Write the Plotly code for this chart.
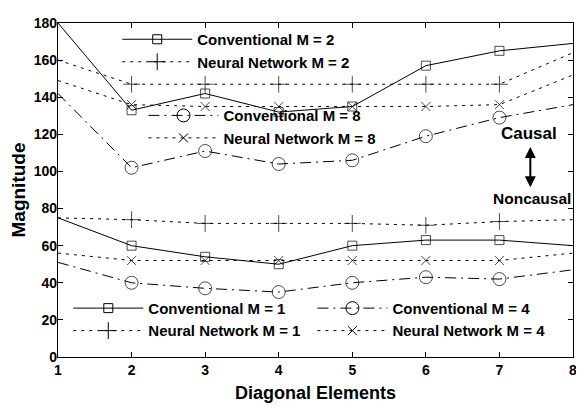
import plotly.graph_objects as go

x = [1, 2, 3, 4, 5, 6, 7, 8]

conv_m2 = [180, 133, 142, 132, 135, 157, 165, 169]
nn_m2 = [160, 147, 147, 147, 147, 147, 147, 164]
conv_m8 = [142, 102, 111, 104, 106, 119, 129, 136]
nn_m8 = [149, 136, 135, 135, 135, 135, 136, 152]
conv_m1 = [75, 60, 54, 50, 60, 63, 63, 60]
nn_m1 = [75, 74, 72, 72, 72, 71, 73, 74]
conv_m4 = [51, 40, 37, 35, 40, 43, 42, 47]
nn_m4 = [56, 52, 52, 52, 52, 52, 52, 56]

x_ticks = [1, 2, 3, 4, 5, 6, 7, 8]
y_ticks = [0, 20, 40, 60, 80, 100, 120, 140, 160, 180]

FONT = "Liberation Sans, Arial, sans-serif"
K = "black"
DOT = "3px,5px"
DASHDOT = "11px,5px,2px,5px"

series = [
    ("Conventional M = 2", conv_m2, "solid", "square-open", 9, "legend"),
    ("Neural Network M = 2", nn_m2, DOT, "cross-thin-open", 12, "legend"),
    ("Conventional M = 8", conv_m8, DASHDOT, "circle-open", 13, "legend2"),
    ("Neural Network M = 8", nn_m8, DOT, "x-thin-open", 9, "legend2"),
    ("Conventional M = 1", conv_m1, "solid", "square-open", 9, "legend3"),
    ("Neural Network M = 1", nn_m1, DOT, "cross-thin-open", 12, "legend3"),
    ("Conventional M = 4", conv_m4, DASHDOT, "circle-open", 13, "legend4"),
    ("Neural Network M = 4", nn_m4, DOT, "x-thin-open", 9, "legend4"),
]

fig = go.Figure()
for name, ys, dash, sym, size, leg in series:
    # markers only at the interior points (none at the plot edges)
    sizes = [0] + [size] * (len(x) - 2) + [0]
    fig.add_trace(go.Scatter(
        x=x, y=ys, name=name, mode="lines+markers", showlegend=False,
        line=dict(color=K, width=1, dash=dash),
        marker=dict(symbol=sym, size=sizes, color=K, line=dict(color=K, width=1)),
    ))
    # legend entry
    fig.add_trace(go.Scatter(
        x=[None], y=[None], name=name, mode="lines+markers", legend=leg,
        line=dict(color=K, width=1, dash=dash),
        marker=dict(symbol=sym, size=size, color=K, line=dict(color=K, width=1)),
    ))

legfont = dict(family=FONT, size=15, color=K, weight="bold")
common = dict(font=legfont, bgcolor="rgba(0,0,0,0)", borderwidth=0,
              xanchor="left", yanchor="top", tracegroupgap=0, itemwidth=70)
fig.update_layout(
    legend=dict(x=0.115, y=1.0, **common),
    legend2=dict(x=0.166, y=0.772, **common),
    legend3=dict(x=0.02, y=0.195, **common),
    legend4=dict(x=0.494, y=0.195, **common),
)

fig.update_xaxes(
    range=[1, 8], tickvals=x_ticks, ticks="inside", ticklen=5, tickcolor=K,
    showline=True, linecolor=K, linewidth=1.3, mirror="ticks", showgrid=False,
    zeroline=False, ticklabeloverflow="allow",
    tickfont=dict(family=FONT, size=14, color=K, weight="bold"),
    title=dict(text="Diagonal Elements", font=dict(family=FONT, size=18, color=K, weight="bold"), standoff=9),
)
fig.update_yaxes(
    range=[0, 180], tickvals=y_ticks, ticks="inside", ticklen=5, tickcolor=K,
    showline=True, linecolor=K, linewidth=1.3, mirror="ticks", showgrid=False,
    zeroline=False, ticklabelstandoff=-3, ticklabeloverflow="allow",
    tickfont=dict(family=FONT, size=14, color=K, weight="bold"),
    title=dict(text="Magnitude", font=dict(family=FONT, size=19, color=K, weight="bold"), standoff=4),
)

fig.add_annotation(x=7.40, y=120.5, xref="x", yref="y", text="Causal", showarrow=False,
                   font=dict(family=FONT, size=17, color=K, weight="bold"))
fig.add_annotation(x=7.447, y=85.3, xref="x", yref="y", text="Noncausal", showarrow=False,
                   font=dict(family=FONT, size=15.5, color=K, weight="bold"))
fig.add_annotation(x=7.42, y=91.5, ax=7.42, ay=114, xref="x", yref="y", axref="x", ayref="y",
                   text="", showarrow=True, arrowhead=2, arrowsize=1.1, arrowwidth=2,
                   arrowcolor=K, startarrowhead=2, startarrowsize=1.1, arrowside="end+start")

# page body has an 8px margin, so the figure is 8px smaller than the window
fig.update_layout(
    width=576, height=399,
    margin=dict(l=50, r=7, t=8, b=49),
    paper_bgcolor="white", plot_bgcolor="white",
    font=dict(family=FONT, color=K),
)

fig.write_html("out.html")
